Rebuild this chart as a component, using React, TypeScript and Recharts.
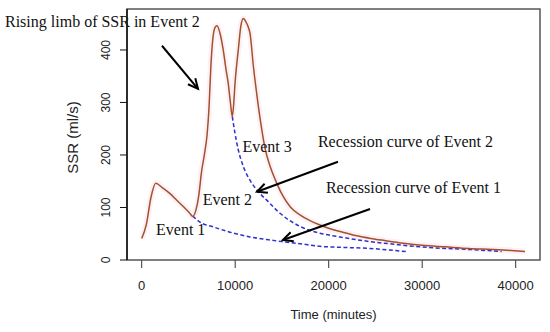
import React from "react";
import {
  LineChart, Line, XAxis, YAxis, ReferenceLine, ReferenceDot,
} from "recharts";

// SSR hydrograph (time in minutes, SSR in ml/s)
const ssrTime = [
  0, 500, 1000, 1500, 2200, 3000, 3800, 4500, 5100, 5450, 5800, 6100, 6400, 6700, 7000,
  7200, 7400, 7600, 7850, 8050, 8400, 8720, 9000, 9260, 9500, 9690, 9850, 9980, 10150,
  10330, 10600, 10870, 11100, 11300, 11600, 11950, 12300, 12700, 13200, 13800, 14450,
  15100, 15900, 17000, 18000, 19000, 20400, 21500, 23000, 24500, 26000, 28000, 30000,
  32500, 35000, 37500, 39500, 41000,
];
const ssrValue = [
  41, 68, 120, 146, 138, 127, 113, 101, 90, 83, 95, 122, 168, 200, 240,
  290, 370, 420, 443, 446, 430, 400, 365, 336, 298, 273, 300, 336, 370,
  400, 445, 460, 455, 448, 430, 368, 317, 265, 212, 175, 146,
  122, 101, 85, 75, 67, 58, 53, 46, 41, 37, 32, 28,
  25, 22, 20, 18, 16,
];

// recession curve of Event 1
const rec1Time = [5450, 6240, 7660, 9440, 11580, 13370, 15000, 16930, 19070, 21500, 24420, 26500, 28300];
const rec1Value = [84, 72, 63, 53, 44, 39, 35, 31, 26, 24, 22, 19, 16];

// recession curve of Event 2
const rec2Time = [9690, 9850, 9980, 10330, 10870, 11580, 12470, 13370, 14790, 16930, 19070, 21200, 24420, 27000, 29770, 32500, 35120, 38500];
const rec2Value = [273, 255, 241, 210, 178, 152, 130, 114, 89, 64, 51, 44, 35, 30, 25, 22, 20, 16];

const xTicks = [0, 10000, 20000, 30000, 40000];
const yTicks = [0, 100, 200, 300, 400];
const xDomain = [-1572, 42600];
const yDomain = [0, 478];

const notes = [
  { text: "Rising limb of SSR in Event 2", x: -14620, y: 443 },
  { text: "Event 3", x: 10770, y: 206 },
  { text: "Event 2", x: 6520, y: 105 },
  { text: "Event 1", x: 1530, y: 47 },
  { text: "Recession curve of Event 2", x: 18850, y: 215 },
  { text: "Recession curve of Event 1", x: 19700, y: 127 },
];

const arrows = [
  { from: { x: 2170, y: 408 }, to: { x: 6020, y: 326 } },
  { from: { x: 20990, y: 187 }, to: { x: 12330, y: 130 } },
  { from: { x: 24420, y: 97 }, to: { x: 15100, y: 38 } },
];

const ssrData = ssrTime.map((t, i) => ({ t, v: ssrValue[i] }));
const rec1Data = rec1Time.map((t, i) => ({ t, v: rec1Value[i] }));
const rec2Data = rec2Time.map((t, i) => ({ t, v: rec2Value[i] }));

const W = 550;
const H = 332;
const margin = { top: 9, right: 10, left: 0, bottom: 0 };
const yAxisWidth = 127;
const xAxisHeight = 72;
// plot box (R style frame), derived from the chart layout
const box = {
  x: margin.left + yAxisWidth,
  y: margin.top,
  w: W - margin.left - margin.right - yAxisWidth,
  h: H - margin.top - margin.bottom - xAxisHeight,
};

const sans = "'Liberation Sans', Arial, sans-serif";
const serif = "'Liberation Serif', 'Times New Roman', serif";

function YTick(props: any) {
  const { x, y, payload } = props;
  const bx = x - 7.7;
  return (
    <text x={bx} y={y} transform={`rotate(-90, ${bx}, ${y})`} textAnchor="middle"
      fontSize={12} fontFamily={sans} fill="#222">
      {payload.value}
    </text>
  );
}

function Arrow(props: any) {
  const { x1, y1, x2, y2 } = props;
  const a = Math.atan2(y2 - y1, x2 - x1);
  const len = 11;
  const spread = 0.45;
  const p1 = [x2 - len * Math.cos(a - spread), y2 - len * Math.sin(a - spread)];
  const p2 = [x2 - len * Math.cos(a + spread), y2 - len * Math.sin(a + spread)];
  return (
    <g>
      <line x1={x1} y1={y1} x2={x2} y2={y2} stroke="#000" strokeWidth={2} />
      <path d={`M${p1[0]},${p1[1]} L${x2},${y2} L${p2[0]},${p2[1]}`} fill="none" stroke="#000" strokeWidth={2} />
    </g>
  );
}

export default function App() {
  return (
    <div style={{ position: "absolute", left: 0, top: 0, width: W, height: H, background: "#fff" }}>
      <LineChart width={W} height={H} margin={margin}>
        <XAxis
          dataKey="t" type="number" domain={xDomain} allowDataOverflow ticks={xTicks}
          axisLine={false} tickSize={8} tickMargin={13} height={xAxisHeight}
          tickLine={{ stroke: "#333" }}
          tick={{ fontSize: 13, fontFamily: sans, fill: "#222" }}
          label={{
            content: (p: any) => (
              <text x={p.viewBox.x + p.viewBox.width / 2} y={319} textAnchor="middle"
                fontSize={13} fontFamily={sans} fill="#222">Time (minutes)</text>
            ),
          }}
        />
        <YAxis
          type="number" domain={yDomain} allowDataOverflow ticks={yTicks} width={yAxisWidth}
          axisLine={false} tickLine={{ stroke: "#111" }} tickSize={7} tickMargin={2}
          tick={<YTick />}
          label={{
            content: () => (
              <text x={78} y={137.5} transform="rotate(-90, 78, 137.5)" textAnchor="middle"
                fontSize={15} fontFamily={sans} fill="#222">SSR (ml/s)</text>
            ),
          }}
        />
        <Line data={ssrData} dataKey="v" type="monotone" stroke="#fff0f6" strokeWidth={6}
          dot={false} isAnimationActive={false} />
        <Line data={rec1Data} dataKey="v" type="monotone" stroke="#3030d0" strokeWidth={1.5}
          strokeDasharray="4 2.5" dot={false} isAnimationActive={false} />
        <Line data={rec2Data} dataKey="v" type="monotone" stroke="#3030d0" strokeWidth={1.5}
          strokeDasharray="4 2.5" dot={false} isAnimationActive={false} />
        <Line data={ssrData} dataKey="v" type="monotone" stroke="#a0522d" strokeWidth={1.5}
          dot={false} isAnimationActive={false} />
        {arrows.map((a, i) => (
          <ReferenceLine key={`arrow-${i}`} segment={[a.from, a.to]} ifOverflow="visible" shape={Arrow} />
        ))}
        {notes.map((n, i) => (
          <ReferenceDot key={`note-${i}`} x={n.x} y={n.y} r={0} ifOverflow="visible"
            shape={(p: any) => (
              <text x={p.cx} y={p.cy} fontSize={16} fontFamily={serif} fill="#111">{n.text}</text>
            )}
          />
        ))}
      </LineChart>
      <svg width={W} height={H} style={{ position: "absolute", left: 0, top: 0, pointerEvents: "none" }}>
        <rect x={box.x} y={box.y} width={box.w} height={box.h} fill="none" stroke="#555" strokeWidth={1.5} />
        <line x1={box.x} y1={box.y} x2={box.x} y2={box.y + box.h} stroke="#111" strokeWidth={1.5} />
      </svg>
    </div>
  );
}
